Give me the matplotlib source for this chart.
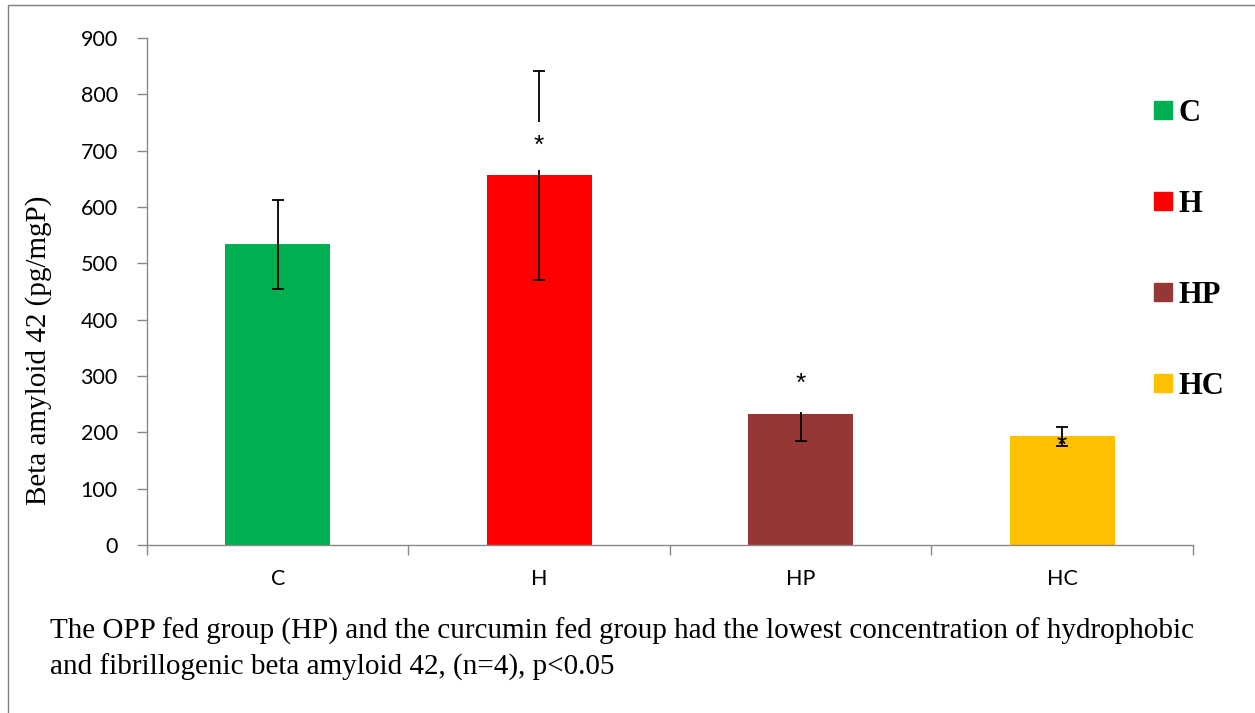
import matplotlib
matplotlib.use("Agg")
import matplotlib.pyplot as plt
from matplotlib.patches import Rectangle
from matplotlib.lines import Line2D

groups = ["C", "H", "HP", "HC"]
values = [534, 656, 232, 193]
errors = [79, 186, 47, 17]
colors = ["#00B050", "#FF0000", "#953735", "#FFC000"]
star_y = [None, 708, 286, 176]
y_ticks = [0, 100, 200, 300, 400, 500, 600, 700, 800, 900]
caption = ("The OPP fed group (HP) and the curcumin fed group had the lowest concentration of hydrophobic\n"
           "and fibrillogenic beta amyloid 42, (n=4), p<0.05")

fig = plt.figure(figsize=(12.55, 7.13), dpi=100)
ax = fig.add_axes([0.1171, 0.2356, 0.8335, 0.7111])

x = list(range(len(groups)))
ax.bar(x, values, width=0.40, color=colors, zorder=2)
ax.errorbar(x, values, yerr=errors, fmt="none", ecolor="black", elinewidth=1.3,
            capsize=4.5, capthick=1.3, zorder=3)

for i, sy in enumerate(star_y):
    if sy is None:
        continue
    if i == 3:
        ax.text(x[i], sy, "*", ha="center", va="center", fontsize=19,
                family="Liberation Sans", zorder=5)
    else:
        pad = 0.45 if i == 1 else 0.6
        ax.text(x[i], sy, "*", ha="center", va="center", fontsize=19,
                family="Liberation Sans", zorder=5,
                bbox=dict(boxstyle="square,pad=%s" % pad, fc="white", ec="none"))

ax.set_xlim(-0.5, 3.5)
ax.set_ylim(0, 900)
ax.set_yticks(y_ticks)
ax.set_xticks(x)
ax.set_xticklabels(groups)
ax.set_xticks([i - 0.5 for i in range(len(groups) + 1)], minor=True)
ax.tick_params(axis="x", which="major", length=0, pad=17, labelsize=15.5)
ax.tick_params(axis="x", which="minor", length=7, direction="out", color="#898989", width=1)
ax.tick_params(axis="y", length=7, direction="out", color="#898989", width=1, labelsize=15.5, pad=14)
for lab in ax.get_xticklabels() + ax.get_yticklabels():
    lab.set_family("Lato")
for s in ["top", "right"]:
    ax.spines[s].set_visible(False)
for s in ["left", "bottom"]:
    ax.spines[s].set_color("#898989")
    ax.spines[s].set_linewidth(1)

ax.set_ylabel("Beta amyloid 42 (pg/mgP)", family="Liberation Serif", fontsize=21)
ax.yaxis.set_label_coords(-0.091, 0.385)

handles = [Line2D([], [], marker="s", linestyle="none", markersize=12.5,
                  markerfacecolor=c, markeredgecolor=c) for c in colors]
leg = fig.legend(handles, groups, loc="upper left", bbox_to_anchor=(0.8930, 0.900),
                 frameon=False, handletextpad=0.0, labelspacing=2.03, handlelength=1.0,
                 prop={"family": "Liberation Serif", "weight": "bold", "size": 22})

fig.text(0.040, 0.133, caption, family="Liberation Serif", fontsize=21,
         ha="left", va="top", linespacing=1.38)

fig.patches.append(Rectangle((0.0064, -0.1), 1.1, 1.093, transform=fig.transFigure,
                             fill=False, ec="#7f7f7f", lw=1))

fig.savefig("out.png", dpi=100)
